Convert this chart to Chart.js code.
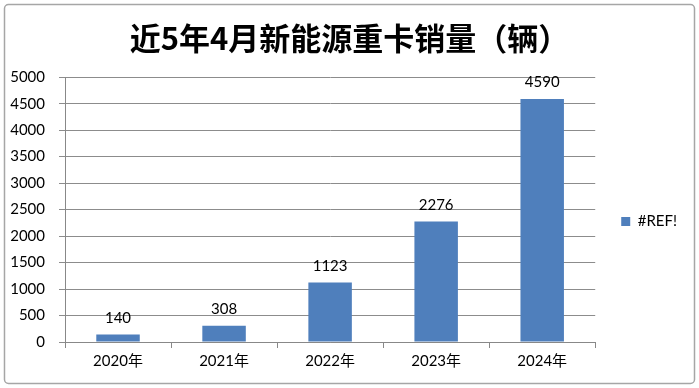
<!DOCTYPE html>
<html><head><meta charset="utf-8">
<script src="https://cdn.jsdelivr.net/npm/chart.js@4"></script>
<style>html,body{margin:0;padding:0;background:#fff}#wrap{width:699px;height:388px}</style>
</head><body><div id="wrap"><canvas id="c" width="699" height="388"></canvas></div>
<script>
const categories = ['2020年','2021年','2022年','2023年','2024年'];
const salesValues = [140, 308, 1123, 2276, 4590];
const seriesName = '#REF!';
const chartTitle = '近5年4月新能源重卡销量（辆）';
const yMax = 5000, yStep = 500;

const FONT = "Lato, 'Noto Sans CJK SC', sans-serif";

const frame = {
  id: 'frame',
  beforeDraw(chart) {
    const ctx = chart.ctx;
    ctx.save();
    ctx.fillStyle = '#fff';
    ctx.fillRect(0, 0, chart.width, chart.height);
    ctx.strokeStyle = '#a6a6a6';
    ctx.lineWidth = 1.5;
    const x = 4.5, y = 4.5, w = chart.width - 9, h = chart.height - 9, r = 4;
    ctx.beginPath();
    ctx.roundRect(x, y, w, h, r);
    ctx.stroke();
    ctx.restore();
  }
};

// widen the legend column so the plot area ends where the reference's does
const legendWidth = {
  id: 'legendWidth',
  beforeLayout(chart) {
    const lg = chart.legend;
    if (lg && !lg._widened) {
      const orig = lg.fit.bind(lg);
      lg.fit = function () { orig(); this.width += 12; };
      lg._widened = true;
    }
  }
};

const valueLabels = {
  id: 'valueLabels',
  afterDatasetsDraw(chart) {
    const ctx = chart.ctx;
    const meta = chart.getDatasetMeta(0);
    ctx.save();
    ctx.font = '15px ' + FONT;
    ctx.fillStyle = '#000';
    ctx.textAlign = 'center';
    ctx.textBaseline = 'bottom';
    meta.data.forEach((bar, i) => {
      ctx.fillText(String(chart.data.datasets[0].data[i]), bar.x, bar.y - 9);
    });
    ctx.restore();
  }
};

new Chart(document.getElementById('c'), {
  type: 'bar',
  data: {
    labels: categories,
    datasets: [{
      label: seriesName,
      data: salesValues,
      backgroundColor: '#4F7FBC',
      borderWidth: 0,
      barPercentage: 0.41,
      categoryPercentage: 1.0
    }]
  },
  options: {
    responsive: false,
    animation: false,
    devicePixelRatio: 1,
    layout: { padding: { left: 0, right: 0, top: 0, bottom: 14 } },
    plugins: {
      title: {
        display: true,
        text: chartTitle,
        color: '#000',
        font: { family: "'Noto Sans CJK SC', sans-serif", size: 31, weight: 'bold' },
        padding: { top: 20, bottom: 20 }
      },
      legend: {
        display: true,
        position: 'right',
        title: { display: true, text: ' ', font: { size: 1 }, padding: { top: 34, bottom: 34 } },
        labels: {
          color: '#000',
          boxWidth: 9,
          boxHeight: 9,
          padding: 26,
          font: { family: FONT, size: 15 }
        }
      },
      tooltip: { enabled: false }
    },
    scales: {
      x: {
        grid: { display: true, drawOnChartArea: false, offset: true, color: '#888', tickLength: 6 },
        border: { color: '#888' },
        ticks: { color: '#000', font: { family: FONT, size: 15 }, padding: 4 }
      },
      y: {
        min: 0, max: yMax,
        ticks: { stepSize: yStep, color: '#000', font: { family: FONT, size: 15 }, padding: 14, callback: v => String(v) },
        grid: { color: '#8c8c8c', tickLength: 6 },
        border: { color: '#888' },
        afterFit(scale) { scale.width = 65; }
      }
    }
  },
  plugins: [frame, legendWidth, valueLabels]
});
</script>
</body></html>
